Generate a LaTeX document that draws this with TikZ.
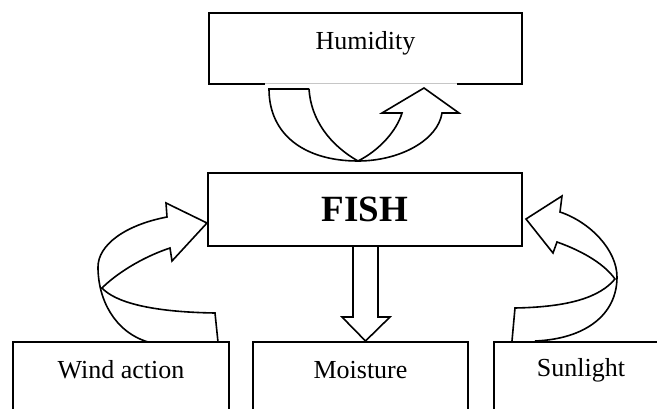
\documentclass[tikz,border=0pt]{standalone}
\usepackage{fontspec}
\setmainfont{Liberation Serif}
\begin{document}
\begin{tikzpicture}[x=1pt,y=-1pt,
  box/.style={draw, line width=2.8pt, inner sep=0pt, outer sep=0pt},
  lbl/.style={font=\fontsize{26}{30}\selectfont, anchor=base, inner sep=0pt},
  big/.style={font=\fontsize{37}{40}\selectfont\bfseries, anchor=base, inner sep=0pt},
  arr/.style={draw, line width=1.6pt, line join=miter}]
\useasboundingbox (0,0) rectangle (657,409);
\clip (0,0) rectangle (657,409);
% boxes
\node[box, minimum width=313pt, minimum height=71pt] (hum) at (365.5,48.5) {};
\node[box, minimum width=314pt, minimum height=73pt] (fish) at (365,209.5) {};
\node[box, minimum width=216pt, minimum height=100pt] (wind) at (121,392) {};
\node[box, minimum width=215pt, minimum height=100pt] (moi) at (360.5,392) {};
\node[box, minimum width=174pt, minimum height=100pt] (sun) at (581,392) {};
% faded part of the humidity box bottom edge
\draw[white, line width=3.4pt] (265,84) -- (457,84);
\draw[gray!45, line width=0.8pt] (265,83) -- (457,83);
% texts
\node[lbl] (humt) at (365.5,50) {Humidity};
\node[big] (fisht) at (365,222) {FISH};
\node[lbl] (windt) at (121,378) {Wind action};
\node[lbl] (moit) at (360.5,378) {Moisture};
\node[lbl] (sunt) at (581,377) {Sunlight};
% humidity U-turn arrow
\draw[arr] (309,89) -- (269,89) .. controls (269,135) and (305,161) .. (358,161)
  .. controls (400,161) and (438,140) .. (442,113) -- (459,113) -- (424,88) -- (382,113) -- (402,113)
  .. controls (397,130) and (380,150) .. (358,161) .. controls (330,145) and (311,120) .. (309,89);
% wind action arrow
\draw[arr] (218,342) -- (215,313) .. controls (150,312) and (115,302) .. (102,288)
  .. controls (115,275) and (140,258) .. (170,248) -- (172,261) -- (207,223) -- (166,203) -- (167,217)
  .. controls (125,225) and (98,245) .. (98,267) .. controls (98,300) and (115,332) .. (148,342);
% sunlight arrow
\draw[arr] (512,341) -- (515,308) .. controls (570,307) and (600,297) .. (615,279)
  .. controls (605,265) and (585,252) .. (557,242) -- (553,253) -- (526,219) -- (562,196) -- (560,212)
  .. controls (590,222) and (617,250) .. (617,277) .. controls (617,315) and (585,339) .. (535,341);
% fish to moisture block arrow
\draw[arr] (353,246) -- (353,317) -- (342,317) -- (365.5,341) -- (390,317) -- (378,317) -- (378,246);
\end{tikzpicture}
\end{document}
